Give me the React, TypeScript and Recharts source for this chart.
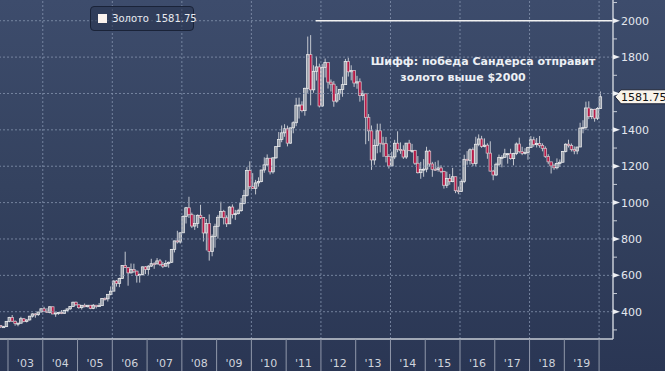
import React from 'react';
import { ComposedChart, Bar, XAxis, YAxis, ReferenceLine, ReferenceDot } from 'recharts';

// monthly gold candles, Oct 2002 .. Jan 2020
const startYear = 2002;
const startMonth = 10;
const firstOpen = 323.7;

const monthlyClose = [
  316.9, 317.7, 347.2,
  367.5, 347.5, 334.9, 336.8, 361.4, 346.0, 354.8, 375.6, 388.0, 383.8, 398.4, 416.3,
  402.6, 396.8, 427.1, 387.5, 393.3, 395.8, 391.4, 407.3, 415.7, 428.4, 452.4, 438.0,
  422.2, 435.5, 427.5, 435.7, 417.3, 435.9, 429.0, 433.3, 473.3, 470.8, 495.7, 513.0,
  568.8, 556.0, 582.0, 654.5, 643.0, 613.5, 632.5, 623.5, 599.3, 604.0, 646.7, 632.0,
  650.5, 664.2, 663.0, 679.4, 659.1, 650.5, 665.5, 672.0, 743.0, 789.5, 783.5, 833.8,
  923.3, 971.5, 933.5, 871.0, 885.8, 930.3, 918.0, 833.0, 884.5, 730.8, 814.5, 869.8,
  919.5, 952.0, 916.5, 883.3, 975.5, 934.5, 939.0, 955.5, 995.8, 1040.0, 1175.8, 1087.5,
  1078.5, 1108.3, 1115.5, 1179.3, 1207.5, 1244.0, 1169.0, 1246.0, 1307.5, 1346.8, 1383.5, 1405.5,
  1327.0, 1411.0, 1439.0, 1535.5, 1536.5, 1505.5, 1628.5, 1813.5, 1620.0, 1722.0, 1746.0, 1531.0,
  1744.0, 1770.0, 1662.5, 1651.3, 1558.0, 1598.5, 1622.0, 1648.5, 1776.0, 1719.0, 1726.0, 1657.5,
  1664.0, 1588.5, 1598.3, 1469.0, 1394.5, 1234.5, 1314.5, 1394.8, 1326.5, 1324.0, 1253.0, 1201.5,
  1251.0, 1326.5, 1291.8, 1288.5, 1250.5, 1327.0, 1285.3, 1287.0, 1216.5, 1164.3, 1182.8, 1184.0,
  1283.0, 1212.6, 1183.1, 1182.4, 1190.6, 1171.5, 1095.4, 1132.0, 1115.1, 1142.2, 1065.3, 1060.3,
  1116.4, 1238.1, 1232.7, 1290.5, 1214.6, 1321.0, 1350.0, 1308.9, 1315.8, 1272.0, 1173.2, 1151.7,
  1211.2, 1248.3, 1249.2, 1268.3, 1268.9, 1241.6, 1269.4, 1322.2, 1279.8, 1271.0, 1274.9, 1302.8,
  1345.2, 1318.4, 1325.5, 1315.0, 1298.5, 1253.2, 1224.0, 1201.5, 1191.5, 1214.9, 1222.0, 1281.7,
  1321.2, 1313.3, 1292.3, 1283.7, 1305.6, 1409.6, 1413.8, 1520.3, 1472.3, 1512.9, 1463.9, 1517.3,
  1581.75,
];

const monthlyHigh = [
  325, 322, 349,
  372, 382, 352, 340, 372, 365, 358, 377, 391, 392, 400, 417,
  427, 420, 430, 428, 395, 399, 409, 411, 416, 431, 455, 456,
  439, 437, 445, 437, 436, 442, 437, 448, 474, 479, 497, 539,
  572, 574, 587, 655, 730, 643, 665, 664, 625, 610, 648, 651,
  656, 691, 672, 695, 690, 674, 683, 676, 745, 790, 845, 836,
  930, 976, 1032, 945, 933, 935, 988, 920, 910, 935, 825, 884,
  932, 1005, 960, 930, 980, 990, 960, 966, 1025, 1070, 1195, 1227,
  1162, 1125, 1139, 1180, 1249, 1265, 1242, 1249, 1310, 1388, 1424, 1431,
  1423, 1412, 1447, 1576, 1577, 1557, 1632, 1913, 1921, 1755, 1803, 1764,
  1763, 1792, 1720, 1677, 1668, 1641, 1625, 1692, 1790, 1796, 1755, 1722,
  1697, 1683, 1617, 1597, 1487, 1424, 1348, 1434, 1434, 1362, 1361, 1267,
  1280, 1345, 1392, 1331, 1315, 1326, 1345, 1323, 1290, 1256, 1224, 1239,
  1307, 1290, 1224, 1224, 1232, 1205, 1175, 1170, 1157, 1191, 1142, 1088,
  1128, 1263, 1283, 1298, 1303, 1362, 1375, 1367, 1353, 1326, 1337, 1180,
  1220, 1264, 1261, 1296, 1271, 1296, 1274, 1331, 1357, 1307, 1299, 1307,
  1366, 1362, 1355, 1366, 1326, 1309, 1266, 1223, 1214, 1243, 1237, 1284,
  1326, 1346, 1325, 1309, 1306, 1439, 1453, 1555, 1557, 1518, 1516, 1525,
  1611,
];

const monthlyLow = [
  312, 316, 316,
  342, 344, 323, 320, 336, 342, 341, 352, 368, 367, 377, 397,
  399, 393, 391, 387, 372, 383, 387, 390, 398, 410, 427, 433,
  416, 412, 424, 424, 414, 414, 418, 429, 433, 461, 456, 490,
  514, 538, 535, 581, 640, 543, 610, 613, 560, 560, 600, 607,
  603, 646, 636, 660, 651, 640, 648, 642, 668, 726, 775, 775,
  836, 885, 916, 860, 850, 860, 910, 786, 737, 681, 705, 752,
  802, 918, 880, 866, 885, 913, 905, 935, 950, 990, 1033, 1075,
  1075, 1045, 1088, 1112, 1164, 1200, 1155, 1159, 1240, 1308, 1332, 1362,
  1309, 1323, 1381, 1420, 1462, 1496, 1478, 1603, 1535, 1604, 1671, 1523,
  1527, 1688, 1627, 1611, 1527, 1549, 1564, 1582, 1647, 1693, 1672, 1636,
  1626, 1555, 1562, 1321, 1338, 1180, 1208, 1271, 1276, 1251, 1221, 1187,
  1202, 1239, 1277, 1268, 1240, 1240, 1285, 1273, 1207, 1160, 1131, 1142,
  1167, 1197, 1142, 1175, 1170, 1162, 1077, 1080, 1098, 1112, 1052, 1046,
  1061, 1107, 1208, 1209, 1200, 1200, 1310, 1301, 1304, 1241, 1171, 1123,
  1146, 1200, 1194, 1245, 1214, 1236, 1205, 1261, 1271, 1261, 1264, 1236,
  1303, 1307, 1303, 1302, 1282, 1246, 1211, 1160, 1180, 1183, 1196, 1221,
  1276, 1303, 1281, 1266, 1266, 1306, 1381, 1400, 1459, 1459, 1445, 1454,
  1517,
];

const yearTicks = [2003, 2004, 2005, 2006, 2007, 2008, 2009, 2010, 2011, 2012, 2013, 2014, 2015, 2016, 2017, 2018, 2019, 2020];
const yearLabels = ["'03", "'04", "'05", "'06", "'07", "'08", "'09", "'10", "'11", "'12", "'13", "'14", "'15", "'16", "'17", "'18", "'19"];
const gridYears = [2004, 2006, 2008, 2010, 2012, 2014, 2016, 2018, 2020];
const priceTicks = [300, 400, 500, 600, 700, 800, 900, 1000, 1100, 1200, 1300, 1400, 1500, 1600, 1700, 1800, 1900, 2000, 2100];
const gridPrices = [400, 600, 800, 1000, 1200, 1400, 1600, 1800, 2000];
const lastPrice = 1581.75;
const targetPrice = 2000;
const targetFrom = 2011.85;

const xDomain = [2002.77, 2020.4];
const yDomain = [250, 2114];

const W = 665;
const H = 371;
const AXIS_W = 52;
const halfYearPx = ((W - AXIS_W) / (xDomain[1] - xDomain[0])) / 2;

const data = monthlyClose.map((close, i) => {
  const open = i === 0 ? firstOpen : monthlyClose[i - 1];
  const m = startMonth - 1 + i;
  return {
    t: startYear + (m + 0.5) / 12,
    open,
    close,
    high: monthlyHigh[i],
    low: monthlyLow[i],
    range: [monthlyLow[i], monthlyHigh[i]],
  };
});

const FONT = '"DejaVu Sans", sans-serif';
const GRID = '#8493ae';

function Candle(props: any) {
  const { x, y, width, height, payload } = props;
  if (!payload) return null;
  const { open, close, high, low } = payload;
  const top0 = Math.min(y, y + height);
  const h = Math.abs(height);
  const span = high - low || 1;
  const py = (v: number) => top0 + ((high - v) / span) * h;
  const up = close >= open;
  const cx = x + width / 2;
  const bTop = py(Math.max(open, close));
  const bBot = py(Math.min(open, close));
  return (
    <g>
      <line x1={cx} x2={cx} y1={top0} y2={top0 + h} stroke="#c3c7cf" strokeWidth={1} />
      <rect
        x={x}
        y={bTop}
        width={width}
        height={Math.max(1, bBot - bTop)}
        fill={up ? '#9aa0aa' : '#b71a47'}
        stroke={up ? '#f4f4f4' : '#d8cdd2'}
        strokeWidth={0.7}
      />
    </g>
  );
}

function YearTick(props: any) {
  const { x, y, index } = props;
  const label = yearLabels[index];
  return (
    <g>
      <line x1={x} x2={x} y1={y} y2={y + 34} stroke="#9098aa" strokeWidth={1} />
      {label && (
        <text x={x + halfYearPx} y={y + 28} textAnchor="middle" fill="#cfd3dc" fontSize={11} fontFamily={FONT}>
          {label}
        </text>
      )}
    </g>
  );
}

function PriceTick(props: any) {
  const { x, y, payload } = props;
  const v = payload.value;
  if (v % 200 !== 0) {
    return <line x1={x} x2={x + 4} y1={y} y2={y} stroke="#c7ccd6" strokeWidth={1} />;
  }
  // the last-price callout sits on top of the nearest label
  const hidden = Math.abs(v - lastPrice) < 60;
  return (
    <g>
      <polygon points={`${x},${y - 2.5} ${x + 7},${y} ${x},${y + 2.5}`} fill="#eef0f4" />
      {!hidden && (
        <text x={x + 8} y={y + 4} fill="#e4e7ee" fontSize={11} fontFamily={FONT}>
          {v}
        </text>
      )}
    </g>
  );
}

function PriceCallout(props: any) {
  const { cx, cy } = props;
  const x0 = cx + 2;
  return (
    <g>
      <polygon
        points={`${x0},${cy} ${x0 + 6},${cy - 7} ${x0 + 60},${cy - 7} ${x0 + 60},${cy + 7} ${x0 + 6},${cy + 7}`}
        fill="#f8f3ea"
        stroke="#1b2236"
        strokeWidth={1}
      />
      <text x={x0 + 6} y={cy + 4} fill="#111" fontSize={11} fontFamily={FONT}>
        {lastPrice}
      </text>
    </g>
  );
}

export default function App() {
  return (
    <div
      style={{
        position: 'absolute',
        left: 0,
        top: 0,
        width: W,
        height: H,
        background: 'linear-gradient(to bottom, #3d4c6c 0%, #34425f 50%, #2a3654 100%)',
        overflow: 'hidden',
      }}
    >
      <ComposedChart width={W} height={H} data={data} margin={{ top: 0, right: 0, left: 0, bottom: 0 }}>
        <XAxis
          dataKey="t"
          type="number"
          domain={xDomain}
          allowDataOverflow
          ticks={yearTicks}
          interval={0}
          height={H - 339}
          tickSize={0}
          tickMargin={0}
          tickLine={false}
          axisLine={{ stroke: '#c7ccd6', strokeWidth: 1.5 }}
          tick={<YearTick />}
        />
        <YAxis
          orientation="right"
          type="number"
          domain={yDomain}
          allowDataOverflow
          ticks={priceTicks}
          interval={0}
          width={AXIS_W}
          tickSize={0}
          tickMargin={0}
          tickLine={false}
          axisLine={{ stroke: '#c7ccd6', strokeWidth: 1.5 }}
          tick={<PriceTick />}
        />
        {gridPrices.map((p) => (
          <ReferenceLine key={`gy${p}`} y={p} ifOverflow="extendDomain" stroke={GRID} strokeOpacity={0.8} strokeDasharray="2 2" strokeWidth={1} />
        ))}
        {gridYears.map((yr) => (
          <ReferenceLine key={`gx${yr}`} x={yr} ifOverflow="extendDomain" stroke={GRID} strokeOpacity={0.8} strokeDasharray="2 2" strokeWidth={1} />
        ))}
        <Bar dataKey="range" barSize={3} shape={<Candle />} isAnimationActive={false} />
        <ReferenceLine
          segment={[
            { x: targetFrom, y: targetPrice },
            { x: xDomain[1], y: targetPrice },
          ]}
          stroke="#f2f2f2"
          strokeWidth={1.3}
        />
        <ReferenceDot x={xDomain[1]} y={lastPrice} r={0} ifOverflow="visible" shape={<PriceCallout />} />
      </ComposedChart>
      <div
        style={{
          position: 'absolute',
          left: 90,
          top: 6,
          width: 102,
          height: 23,
          border: '1px solid #1a2338',
          borderRadius: 4,
          background: 'rgba(40,52,78,0.6)',
          display: 'flex',
          alignItems: 'center',
          fontFamily: FONT,
          fontSize: 10,
          color: '#e8eaef',
        }}
      >
        <span style={{ display: 'inline-block', flexShrink: 0, width: 9, height: 9, background: '#fbf3ee', marginLeft: 7, marginRight: 5 }} />
        <span style={{ whiteSpace: 'nowrap' }}>Золото&nbsp;&nbsp;{lastPrice}</span>
      </div>
      <div
        style={{
          position: 'absolute',
          left: 363,
          top: 54,
          width: 240,
          textAlign: 'center',
          fontFamily: FONT,
          fontWeight: 'bold',
          fontSize: 11,
          lineHeight: '16px',
          color: '#eceff4',
          whiteSpace: 'nowrap',
        }}
      >
        Шифф: победа Сандерса отправит
      </div>
      <div
        style={{
          position: 'absolute',
          left: 343,
          top: 70,
          width: 240,
          textAlign: 'center',
          fontFamily: FONT,
          fontWeight: 'bold',
          fontSize: 11,
          lineHeight: '16px',
          color: '#eceff4',
          whiteSpace: 'nowrap',
        }}
      >
        золото выше $2000
      </div>
    </div>
  );
}
